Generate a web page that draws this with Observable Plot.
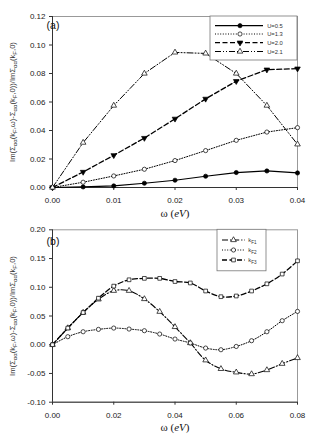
<!DOCTYPE html>
<html><head><meta charset="utf-8">
<script src="https://cdn.jsdelivr.net/npm/d3@7"></script>
<script src="https://cdn.jsdelivr.net/npm/@observablehq/plot@0.6"></script>
<style>
body{margin:0;background:#fff;}
#wrap{position:relative;width:314px;height:438px;overflow:hidden;background:#fff;}
#pa,#pb{position:absolute;left:0;}
#pa{top:0;} #pb{top:222px;}
</style></head>
<body><div id="wrap"><div id="pa"></div><div id="pb"></div></div>
<script>
// ---- data: panel (a)
const xa = [0, 0.005, 0.01, 0.015, 0.02, 0.025, 0.03, 0.035, 0.04];
const u05 = [0, 0.0004, 0.0011, 0.003, 0.0051, 0.0079, 0.0105, 0.0116, 0.0102];
const u13 = [0, 0.0037, 0.0081, 0.0128, 0.0189, 0.0259, 0.0331, 0.0389, 0.042];
const u20 = [0, 0.0109, 0.0226, 0.0347, 0.0482, 0.0622, 0.0746, 0.0827, 0.0834];
const u21 = [0, 0.0315, 0.0575, 0.080, 0.0948, 0.0941, 0.080, 0.0575, 0.0303];
const labelsA = ["U=0.5", "U=1.3", "U=2.0", "U=2.1"];
const xTicksA = [0, 0.01, 0.02, 0.03, 0.04];
const yTicksA = [0, 0.02, 0.04, 0.06, 0.08, 0.10, 0.12];
// ---- data: panel (b)
const xb = [0, 0.005, 0.01, 0.015, 0.02, 0.025, 0.03, 0.035, 0.04, 0.045, 0.05, 0.055, 0.06, 0.065, 0.07, 0.075, 0.08];
const kF1 = [0, 0.029, 0.056, 0.079, 0.094, 0.094, 0.0796, 0.0575, 0.031, 0.003, -0.027, -0.042, -0.048, -0.051, -0.044, -0.033, -0.023];
const kF2 = [0, 0.014, 0.0226, 0.0267, 0.029, 0.0273, 0.0244, 0.0186, 0.0099, 0.003, -0.0058, -0.0087, -0.003, 0.007, 0.0226, 0.0418, 0.058];
const kF3 = [0, 0.029, 0.056, 0.081, 0.102, 0.113, 0.1155, 0.1155, 0.110, 0.1075, 0.0935, 0.0836, 0.0848, 0.0935, 0.106, 0.123, 0.146];
const labelsB = ["1", "2", "3"]; // subscripts F1, F2, F3
const xTicksB = [0, 0.02, 0.04, 0.06, 0.08];
const yTicksB = [-0.10, -0.05, 0, 0.05, 0.10, 0.15, 0.20];

const fmt = d => (Math.abs(d) < 1e-9 ? 0 : d).toFixed(2);
const FONT = "Liberation Sans, Arial, sans-serif";

const stylesA = [
  {vals:u05, dash:null, w:1.2, sym:"circle", fill:"black", rot:0},
  {vals:u13, dash:"1,1.6", w:1, sym:"circle", fill:"white", rot:0},
  {vals:u20, dash:"5,2.5", w:1.3, sym:"triangle", fill:"black", rot:180},
  {vals:u21, dash:"6,2,1,2,1,2", w:1, sym:"triangle", fill:"white", rot:0}
];
const stylesB = [
  {vals:kF1, dash:"6,2,1.2,2", w:1.1, sym:"triangle", fill:"white", rot:0},
  {vals:kF2, dash:"1,1.6", w:1, sym:"circle", fill:"white", rot:0},
  {vals:kF3, dash:"5,2.5", w:1.3, sym:"square", fill:"white", rot:0}
];
const R = 2.1;

function seriesMarks(xs, styles, curve) {
  const marks = [];
  styles.forEach(s => {
    const data = xs.map((x, i) => ({x, y: s.vals[i]}));
    marks.push(Plot.line(data, {x:"x", y:"y", stroke:"black", strokeWidth:s.w, strokeDasharray:s.dash, curve}));
  });
  styles.forEach(s => {
    const data = xs.map((x, i) => ({x, y: s.vals[i]}));
    marks.push(Plot.dot(data, {x:"x", y:"y", r:R, symbol:s.sym, fill:s.fill, stroke:"black", strokeWidth:0.7, rotate:s.rot}));
  });
  return marks;
}

function makePanel(opts) {
  return Plot.plot({
    width: 314, height: opts.height,
    marginLeft: 52, marginRight: 17, marginTop: opts.mt, marginBottom: opts.mb,
    style: {fontFamily: FONT, fontSize: "8px", background: "transparent", color: "#222", overflow: "visible"},
    x: {domain: opts.xd},
    y: {domain: opts.yd},
    marks: [
      Plot.frame({stroke: "#999", strokeWidth: 1}),
      Plot.ruleX([opts.xd[0]], {stroke: "#333"}),
      Plot.ruleY([opts.yd[0]], {stroke: "#333"}),
      Plot.axisX({ticks: opts.xt, tickFormat: fmt, tickSize: 3, tickPadding: 7, label: null, stroke: "#333"}),
      Plot.axisY({ticks: opts.yt, tickFormat: fmt, tickSize: 3, tickPadding: 4, label: null, stroke: "#333"}),
      ...seriesMarks(opts.xs, opts.styles, opts.curve)
    ]
  });
}

function addTexts(svg, o) {
  const s = d3.select(svg);
  s.append("text").attr("x", 53).attr("y", o.tagY).attr("font-family", FONT).attr("font-size", 10.5).attr("fill", "#111").text(o.tag);
  const t = s.append("text").attr("x", 175).attr("y", o.titleY).attr("text-anchor", "middle")
    .attr("font-family", "Liberation Serif, Times New Roman, serif").attr("font-size", 11).attr("fill", "#111");
  t.append("tspan").text("ω (");
  t.append("tspan").attr("font-style", "italic").text("eV");
  t.append("tspan").text(")");
  const yl = s.append("text").attr("transform", `translate(15,${o.ylY}) rotate(-90)`).attr("text-anchor", "middle")
    .attr("font-family", FONT).attr("font-size", 7.6).attr("fill", "#333");
  const parts = [["Im(Σ",0],["αα",1],["(k",0],["F",1],[",ω)-Σ",0],["αα",1],["(k",0],["F",1],[",0))/ImΣ",0],["αα",1],["(k",0],["F",1],[",0)",0]];
  let prev = 0;
  parts.forEach(([txt, sub]) => {
    const ts = yl.append("tspan").text(txt);
    if (sub) ts.attr("font-size", 6);
    const dy = (sub ? 2 : 0) - prev;
    if (dy) ts.attr("dy", dy);
    prev = sub ? 2 : 0;
  });
}

function addLegend(svg, o) {
  const s = d3.select(svg);
  const g = s.append("g");
  g.append("rect").attr("x", o.x0).attr("y", o.y0).attr("width", o.w).attr("height", o.h)
    .attr("fill", "white").attr("stroke", "#777").attr("stroke-width", 0.8);
  o.styles.forEach((st, i) => {
    const y = o.rows[i];
    g.append("line").attr("x1", o.lx1).attr("x2", o.lx2).attr("y1", y).attr("y2", y)
      .attr("stroke", "black").attr("stroke-width", st.w).attr("stroke-dasharray", st.dash);
    const symType = st.sym === "circle" ? d3.symbolCircle : st.sym === "square" ? d3.symbolSquare : d3.symbolTriangle;
    g.append("path").attr("d", d3.symbol(symType, Math.PI * R * R)())
      .attr("transform", `translate(${o.mx},${y}) rotate(${st.rot})`)
      .attr("fill", st.fill).attr("stroke", "black").attr("stroke-width", 0.7);
    const tx = g.append("text").attr("x", o.tx).attr("y", y + 2).attr("font-family", FONT).attr("font-size", 5.8).attr("fill", "#333");
    if (o.kf) {
      tx.append("tspan").text("k");
      tx.append("tspan").attr("font-size", 4.6).attr("dy", 1.5).text("F" + o.labels[i]);
    } else {
      tx.text(o.labels[i]);
    }
  });
}

const svgA = makePanel({height: 222, mt: 16, mb: 35, xd: [0, 0.04], yd: [0, 0.12], xt: xTicksA, yt: yTicksA, xs: xa, styles: stylesA, curve: "linear"});
addTexts(svgA, {tag: "(a)", tagY: 29, titleY: 217, ylY: 102});
addLegend(svgA, {x0: 210, y0: 16, w: 87, h: 44, rows: [25.7, 34, 42.7, 51.5], lx1: 215, lx2: 263, mx: 240, tx: 275, styles: stylesA, labels: labelsA, kf: false});
document.getElementById("pa").appendChild(svgA);

const svgB = makePanel({height: 216, mt: 7.3, mb: 36.3, xd: [0, 0.08], yd: [-0.10, 0.20], xt: xTicksB, yt: yTicksB, xs: xb, styles: stylesB, curve: "catmull-rom"});
addTexts(svgB, {tag: "(b)", tagY: 22.5, titleY: 209, ylY: 94});
addLegend(svgB, {x0: 217, y0: 7.3, w: 49, h: 41.5, rows: [18, 28, 38], lx1: 222, lx2: 245, mx: 233.5, tx: 252.5, styles: stylesB, labels: labelsB, kf: true});
document.getElementById("pb").appendChild(svgB);
</script>
</body></html>
